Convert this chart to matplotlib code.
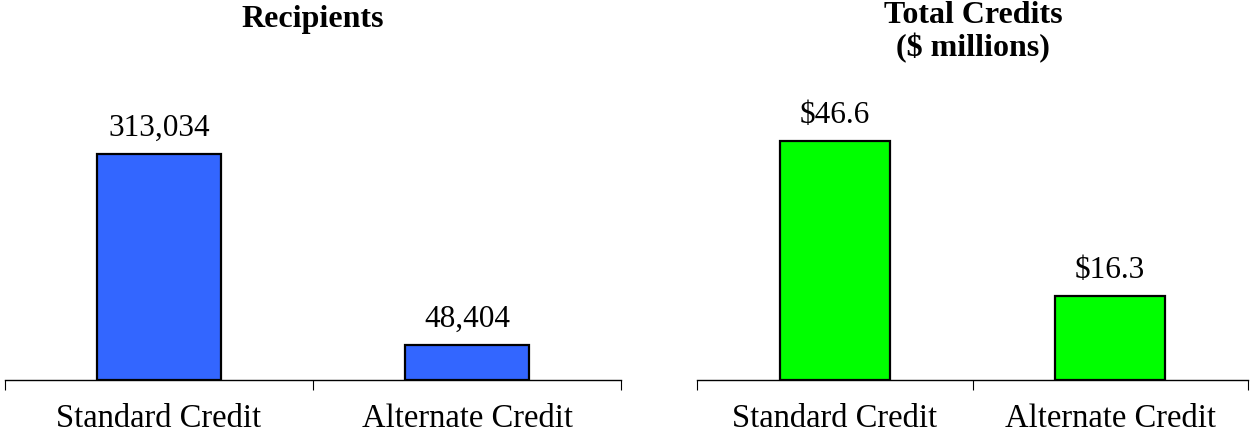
import matplotlib
matplotlib.use("Agg")
import matplotlib.pyplot as plt

categories = ["Standard Credit", "Alternate Credit"]
recipients = [313034, 48404]
recipient_labels = ["313,034", "48,404"]
credits = [46.6, 16.3]
credit_labels = ["$46.6", "$16.3"]

plt.rcParams['font.family'] = ['Liberation Serif', 'DejaVu Serif']

W, H = 1251, 433
fig = plt.figure(figsize=(W / 100, H / 100), dpi=100)

def px_axes(x0, x1, ytop, ybot):
    return fig.add_axes([x0 / W, 1 - ybot / H, (x1 - x0) / W, (ybot - ytop) / H])

ax1 = px_axes(5, 621, 60, 380)
ax2 = px_axes(697, 1248, 60, 380)

def style(ax, values, labels, color, ymax):
    x = range(len(values))
    bars = ax.bar(x, values, width=0.4, color=color, edgecolor='black', linewidth=1.6)
    ax.set_xlim(-0.5, len(values) - 0.5)
    ax.set_ylim(0, ymax)
    for b, lab in zip(bars, labels):
        ax.annotate(lab, (b.get_x() + b.get_width() / 2, b.get_height()),
                    xytext=(0, 13), textcoords='offset points',
                    ha='center', va='baseline', fontsize=22.5)
    for s in ['top', 'right', 'left']:
        ax.spines[s].set_visible(False)
    ax.spines['bottom'].set_linewidth(1.0)
    ax.set_yticks([])
    ax.set_xticks([-0.5, 0.5, 1.5], minor=False)
    ax.set_xticklabels([])
    ax.tick_params(axis='x', which='major', length=7, width=0.8, direction='out')
    ax.set_xticks(list(x), minor=True)
    ax.set_xticklabels(categories, minor=True, fontsize=23.5)
    ax.tick_params(axis='x', which='minor', length=0, pad=17)

style(ax1, recipients, recipient_labels, '#3366FF', 313034 * 320 / 226)
style(ax2, credits, credit_labels, '#00FF00', 46.6 * 320 / 239)

fig.text(313 / W, 1 - 19 / H, 'Recipients', ha='center', va='center', fontsize=23, fontweight='bold')
fig.text(973 / W, 1 - 32 / H, 'Total Credits\n($ millions)', ha='center', va='center',
         fontsize=23, fontweight='bold', linespacing=1.15)

fig.savefig('out.png', dpi=100)
